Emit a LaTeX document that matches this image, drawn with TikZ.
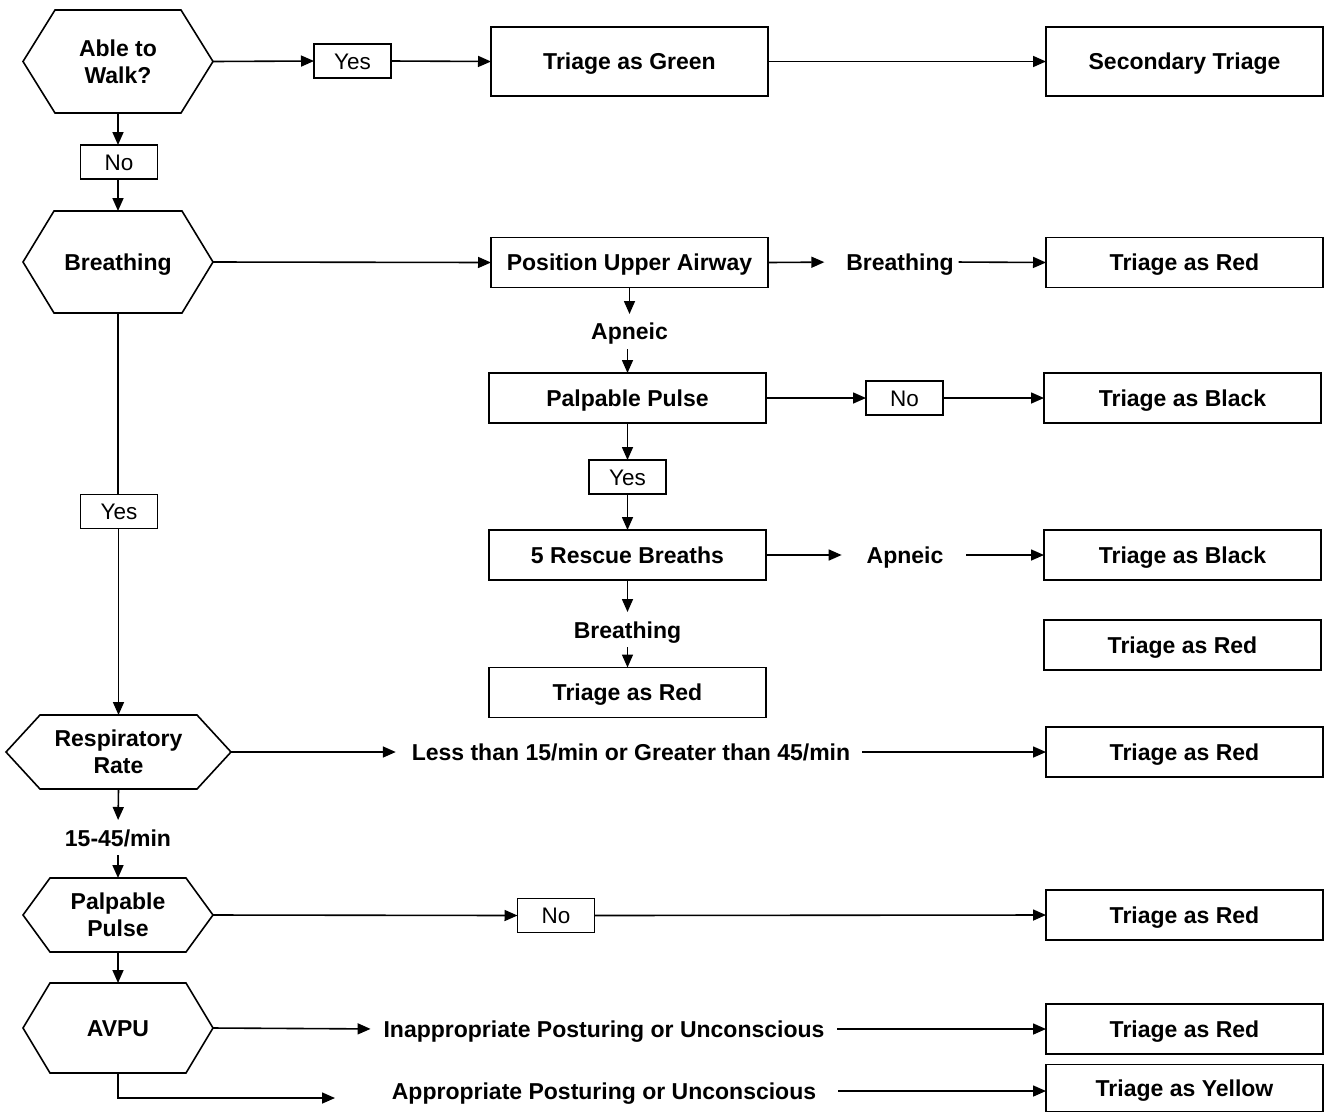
\documentclass[tikz,border=0pt]{standalone}
\usepackage{fontspec}
\setmainfont{Liberation Sans}
\usetikzlibrary{arrows.meta,calc}
\newcommand\hexnode[8][]{%
  \node[hexl, #1, minimum width=#5pt, minimum height=#6pt] (#2) at (#3,#4) {#8};
  \draw[shp] (#2.west) -- ($(#2.north west)+(#7,0)$) -- ($(#2.north east)+(-#7,0)$) -- (#2.east) -- ($(#2.south east)+(-#7,0)$) -- ($(#2.south west)+(#7,0)$) -- cycle;}
\begin{document}
\begin{tikzpicture}[x=1pt,y=-1pt,
  bf/.style={font=\fontsize{23}{27}\selectfont\bfseries},
  one/.style={text height=17pt, text depth=1pt},
  shp/.style={draw=black, line width=1.6pt, line join=miter},
  proc/.style={shp, rectangle, inner sep=0pt, outer sep=0pt, minimum width=277pt, minimum height=50pt, bf, one},
  lbl/.style={shp, rectangle, inner sep=0pt, outer sep=0pt, minimum width=77pt, minimum height=34pt, font=\fontsize{22.5}{26}\selectfont, text height=16pt, text depth=0pt},
  txt/.style={inner sep=0pt, outer sep=0pt, bf, one},
  hexl/.style={inner sep=0pt, outer sep=0pt, align=center, bf},
  arr/.style={-{Triangle[length=13pt,width=11pt]}, line width=1.6pt},
  ln/.style={line width=1.6pt}]
\useasboundingbox (0,0) rectangle (1330,1112);

% column 1
\hexnode{walk}{118}{61.5}{190}{103}{32}{Able to\\Walk?}
\node[lbl] (yes1) at (352.5,61) {Yes};
\node[proc, minimum height=69pt] (green) at (629.5,61.5) {Triage as Green};
\node[proc, minimum height=69pt] (second) at (1184.5,61.5) {Secondary Triage};
\node[lbl] (no1) at (119,162) {No};
\hexnode[one]{breath}{118}{262}{190}{102}{31}{Breathing}
\node[lbl] (yes2) at (119,511.5) {Yes};
\hexnode{rr}{118.5}{752}{225}{74}{34}{Respiratory\\Rate}
\node[txt] (t15) at (118,838) {15-45/min};
\hexnode{pph}{118}{915}{190}{74}{27}{Palpable\\Pulse}
\hexnode[one]{avpu}{118}{1028}{190}{90}{27}{AVPU}

% column 2
\node[proc] (pua) at (629.5,262.5) {Position Upper Airway};
\node[txt] (apn1) at (629.5,331) {Apneic};
\node[proc] (pp) at (627.5,398) {Palpable Pulse};
\node[lbl] (yes3) at (627.5,477) {Yes};
\node[proc] (rescue) at (627.5,555) {5 Rescue Breaths};
\node[txt] (br2) at (627.5,630) {Breathing};
\node[proc] (red2) at (627.5,692.5) {Triage as Red};

% middle texts
\node[txt] (br1) at (900,262) {Breathing};
\node[lbl] (no2) at (904.5,398) {No};
\node[txt] (apn2) at (905,555) {Apneic};
\node[txt] (less) at (631,752) {Less than 15/min or Greater than 45/min};
\node[lbl] (no3) at (556,915.5) {No};
\node[txt] (inap) at (604,1029) {Inappropriate Posturing or Unconscious};
\node[txt] (appr) at (604,1091) {Appropriate Posturing or Unconscious};

% right column
\node[proc] (red1) at (1184.5,262.5) {Triage as Red};
\node[proc] (black1) at (1182.5,398) {Triage as Black};
\node[proc] (black2) at (1182.5,555) {Triage as Black};
\node[proc] (red3) at (1182.5,645) {Triage as Red};
\node[proc] (red4) at (1184.5,752) {Triage as Red};
\node[proc] (red5) at (1184.5,915) {Triage as Red};
\node[proc] (red6) at (1184.5,1029) {Triage as Red};
\node[proc, minimum height=47pt] (yellow) at (1184.5,1088) {Triage as Yellow};

\coordinate (apE) at (335,1098);

% connectors
\draw[arr] (walk.east) -- (yes1.west);
\draw[arr] (yes1.east) -- (green.west);
\draw[arr] (green.east) -- (second.west);
\draw[arr] (walk.south) -- (no1.north -| walk.south);
\draw[arr] (no1.south -| breath.north) -- (breath.north);
\draw[arr] (breath.east) -- (pua.west);
\draw[arr, shorten >=22pt] (pua.east) -- (br1.west);
\draw[arr, shorten <=5pt] (br1.east) -- (red1.west);
\draw[arr, shorten >=8pt] (pua.south) -- (pua.south |- apn1.north);
\draw[arr, shorten <=9pt] (apn1.south -| pp.north) -- (pp.north);
\draw[arr] (pp.east) -- (no2.west);
\draw[arr] (no2.east) -- (black1.west);
\draw[arr] (pp.south) -- (yes3.north);
\draw[arr] (yes3.south) -- (rescue.north);
\draw[arr, shorten >=25pt] (rescue.east) -- (apn2.west);
\draw[arr, shorten <=23pt] (apn2.east) -- (black2.west);
\draw[arr, shorten >=9pt] (rescue.south) -- (br2.north);
\draw[arr, shorten <=8pt] (br2.south) -- (red2.north);
\draw[ln] (breath.south) -- (yes2.north -| breath.south);
\draw[arr] (yes2.south -| rr.north) -- (rr.north);
\draw[arr, shorten >=16pt] (rr.east) -- (less.west);
\draw[arr, shorten <=12pt] (less.east) -- (red4.west);
\draw[arr, shorten >=9pt] (rr.south) -- (t15.north);
\draw[arr] ([yshift=-8pt]t15.south) -- (pph.north);
\draw[arr] (pph.east) -- (no3.west);
\draw[arr] (no3.east) -- (red5.west);
\draw[arr] (pph.south) -- (avpu.north);
\draw[arr, shorten >=13pt] (avpu.east) -- (inap.west);
\draw[arr, shorten <=13pt] (inap.east) -- (red6.west);
\draw[arr] (avpu.south) |- (apE);
\draw[arr, shorten <=22pt] (appr.east) -- (appr.east -| yellow.west);
\end{tikzpicture}
\end{document}
